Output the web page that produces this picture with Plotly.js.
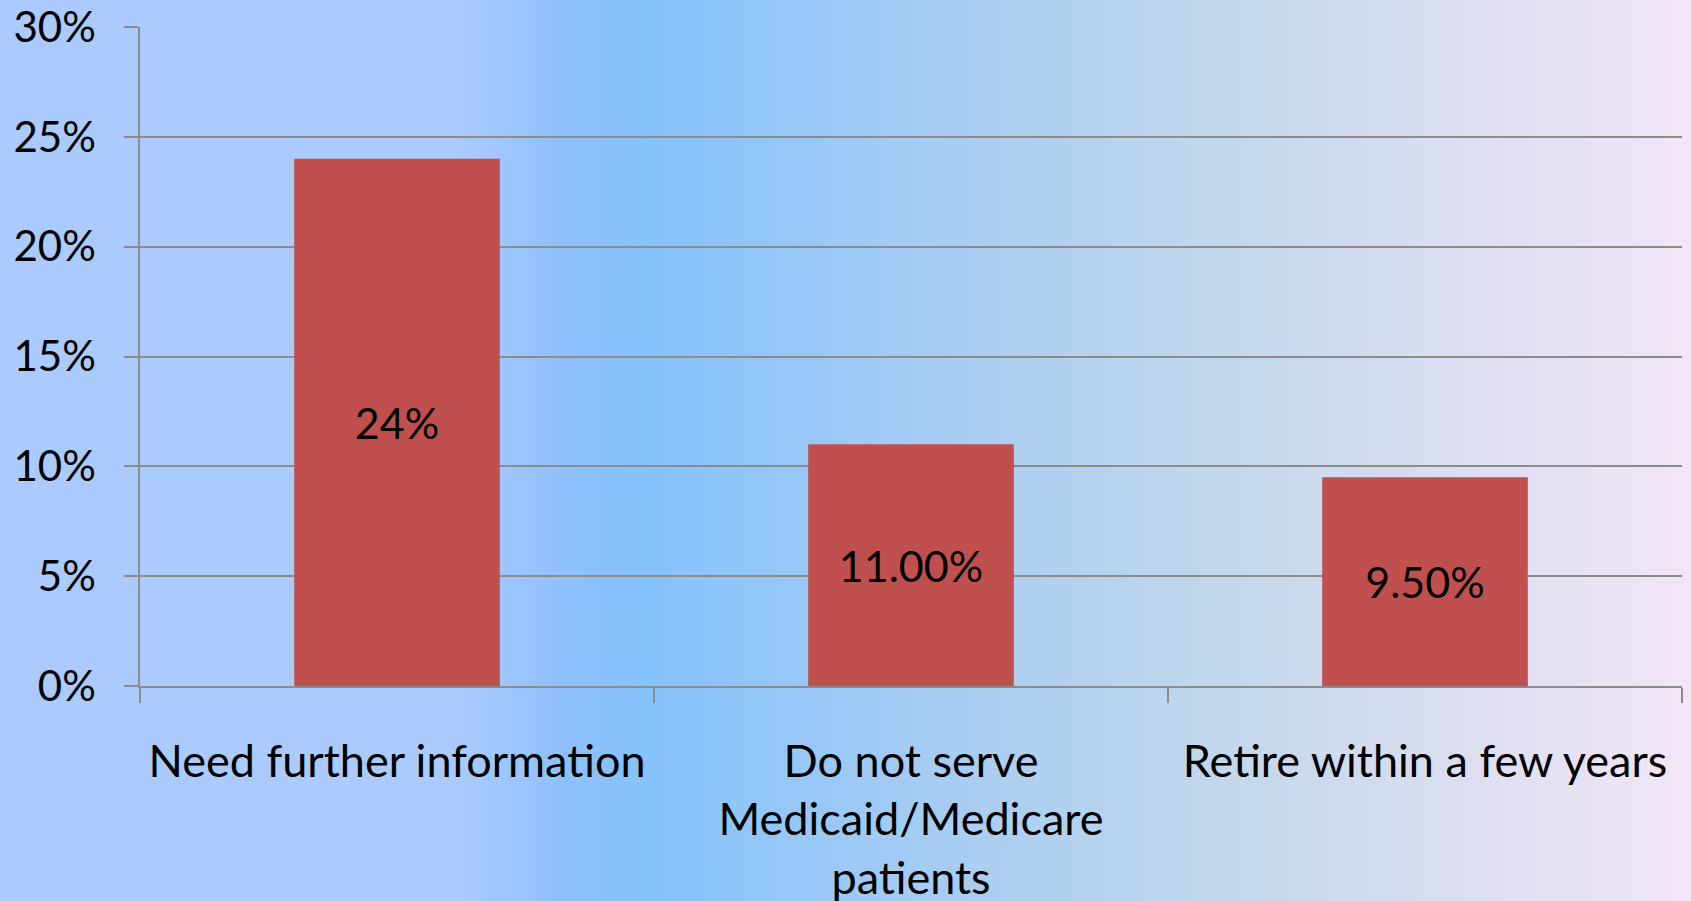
<!DOCTYPE html>
<html>
<head>
<meta charset="utf-8">
<script src="https://cdn.plot.ly/plotly-3.0.1.min.js"></script>
<style>
  html, body { margin: 0; padding: 0; }
  body {
    width: 1691px; height: 901px; overflow: hidden;
    background: linear-gradient(to right, #abcbfe 0%, #abcbfe 27%, #90c0fd 33%, #85c2fc 38%, #a6ccf3 55%, #bed6ec 70%, #d6dcef 83%, #f2e6f6 100%);
  }
  #chart { width: 1691px; height: 901px; }
</style>
</head>
<body>
<div id="chart"></div>
<script>
// categorias y valores
const categories = [
  'Need further information',
  'Do not serve<br>Medicaid/Medicare<br>patients',
  'Retire within a few years'
];
const values = [0.24, 0.11, 0.095];
const valueLabels = ['24%', '11.00%', '9.50%'];
const yTicks = [0, 0.05, 0.10, 0.15, 0.20, 0.25, 0.30];

const font = 'Lato, "Open Sans", sans-serif';
const grey = '#8c8c8c';

const traces = [{
  type: 'bar',
  x: categories,
  y: values,
  text: valueLabels,
  textposition: 'inside',
  insidetextanchor: 'middle',
  textfont: { family: font, size: 43, color: '#000' },
  marker: { color: '#c0504d' },
  width: 0.4,
  hoverinfo: 'x+y'
}];

const layout = {
  width: 1691,
  height: 901,
  margin: { l: 140, r: 9, t: 27, b: 215 },
  paper_bgcolor: 'rgba(0,0,0,0)',
  plot_bgcolor: 'rgba(0,0,0,0)',
  showlegend: false,
  font: { family: font, color: '#000' },
  xaxis: {
    type: 'category',
    showline: true,
    linecolor: grey,
    linewidth: 1.5,
    ticks: 'outside',
    tickson: 'boundaries',
    ticklen: 15,
    tickcolor: grey,
    tickwidth: 1.5,
    ticklabelstandoff: 35,
    tickfont: { family: font, size: 45, color: '#000' },
    showgrid: false,
    zeroline: false
  },
  yaxis: {
    range: [0, 0.3],
    tickvals: yTicks,
    tickformat: '.0%',
    showline: true,
    linecolor: grey,
    linewidth: 1.5,
    ticks: 'outside',
    ticklen: 14,
    tickcolor: grey,
    tickwidth: 1.5,
    ticklabelstandoff: 20,
    tickfont: { family: font, size: 42, color: '#000' },
    showgrid: true,
    gridcolor: grey,
    gridwidth: 1.5,
    zeroline: false
  }
};

Plotly.newPlot('chart', traces, layout, { displayModeBar: false, responsive: false });
</script>
</body>
</html>
